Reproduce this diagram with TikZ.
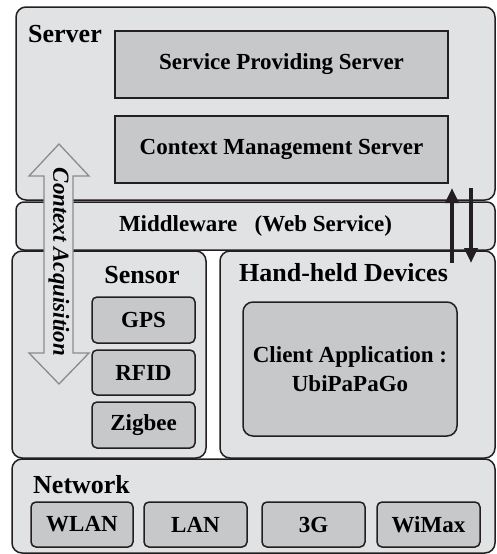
\documentclass[tikz,border=0pt]{standalone}
\usepackage{fontspec}
\setmainfont{Liberation Serif}
\usetikzlibrary{arrows.meta}
\definecolor{panel}{HTML}{E1E2E4}
\definecolor{unit}{HTML}{C7C8CA}
\definecolor{edge}{HTML}{231F20}
\definecolor{flow}{HTML}{8A8B8D}
\tikzset{
  layer/.style={draw=edge, fill=panel, line width=1.5pt, rounded corners=10pt,
    inner sep=0pt},
  srvbox/.style={draw=edge, fill=unit, line width=1.5pt, inner sep=0pt,
    font=\fontsize{23}{28}\selectfont\bfseries},
  smallbox/.style={draw=edge, fill=unit, line width=1.5pt, rounded corners=5pt,
    inner sep=0pt, font=\fontsize{23}{28}\selectfont\bfseries},
  heading/.style={inner sep=0pt, font=\fontsize{26}{30}\selectfont\bfseries},
  link/.style={draw=edge, line width=3.8pt,
    -{Triangle[length=15pt,width=13pt]}},
}
\begin{document}
\begin{tikzpicture}[x=1pt,y=-1pt]
\useasboundingbox (0,0) rectangle (496,554);

% server tier
\node[layer, minimum width=479pt, minimum height=193pt] (server) at (255.5,103.5) {};
\node[heading, anchor=base west] (serverlbl) at (28,42) {Server};
\node[srvbox, minimum width=333pt, minimum height=67pt] (sps) at (281.5,64.5) {Service Providing Server};
\node[srvbox, minimum width=333pt, minimum height=67pt] (cms) at (281.5,149.5) {Context Management Server};

% middleware tier
\node[layer, rounded corners=8pt, minimum width=479pt, minimum height=48pt,
  font=\fontsize{23}{28}\selectfont\bfseries] (mw) at (255.5,226) {Middleware~~~(Web Service)};

% sensor tier
\node[layer, minimum width=194pt, minimum height=207pt] (sensor) at (109,354.5) {};
\node[heading, anchor=base] (sensorlbl) at (142,283) {Sensor};
\node[smallbox, minimum width=103pt, minimum height=46pt] (gps) at (143.5,320) {GPS};
\node[smallbox, minimum width=103pt, minimum height=45pt] (rfid) at (143.5,372.5) {RFID};
\node[smallbox, minimum width=103pt, minimum height=46pt] (zigbee) at (143.5,425) {Zigbee};

% hand-held tier
\node[layer, minimum width=275pt, minimum height=207pt] (hand) at (357.5,354.5) {};
\node[heading, anchor=base] (handlbl) at (343.5,281) {Hand-held Devices};
\node[smallbox, rounded corners=10pt, minimum width=214pt, minimum height=134pt,
  align=center, font=\fontsize{23}{29}\selectfont\bfseries] (client) at (350,369)
  {Client Application :\\UbiPaPaGo};

% network tier
\node[layer, minimum width=483pt, minimum height=94pt] (net) at (253.5,506) {};
\node[heading, anchor=base west] (netlbl) at (33,493) {Network};
\node[smallbox, minimum width=102pt, minimum height=45pt] (wlan) at (82,524.5) {WLAN};
\node[smallbox, minimum width=103pt, minimum height=45pt] (lan) at (195.5,524.5) {LAN};
\node[smallbox, minimum width=103pt, minimum height=45pt] (g3) at (313.5,524.5) {3G};
\node[smallbox, minimum width=103pt, minimum height=45pt] (wimax) at (428.5,524.5) {WiMax};

% context acquisition: hollow double-headed arrow
\draw[draw=flow, fill=panel, line width=1.3pt, line join=miter]
  (59,144) -- (89,176) -- (73,176) -- (73,353) -- (89,353) -- (59,384)
  -- (29,353) -- (44,353) -- (44,176) -- (29,176) -- cycle;
\node[rotate=-90, inner sep=0pt, font=\fontsize{23}{28}\selectfont\bfseries\itshape]
  (ctx) at (59,262) {Context Acquisition};

% request / response between hand-held devices and server
\coordinate (upfrom) at (452,263);
\coordinate (upto) at (452,188);
\coordinate (downfrom) at (471,188);
\coordinate (downto) at (471,263);
\draw[link] (upfrom) -- (upto);
\draw[link] (downfrom) -- (downto);
\end{tikzpicture}
\end{document}
